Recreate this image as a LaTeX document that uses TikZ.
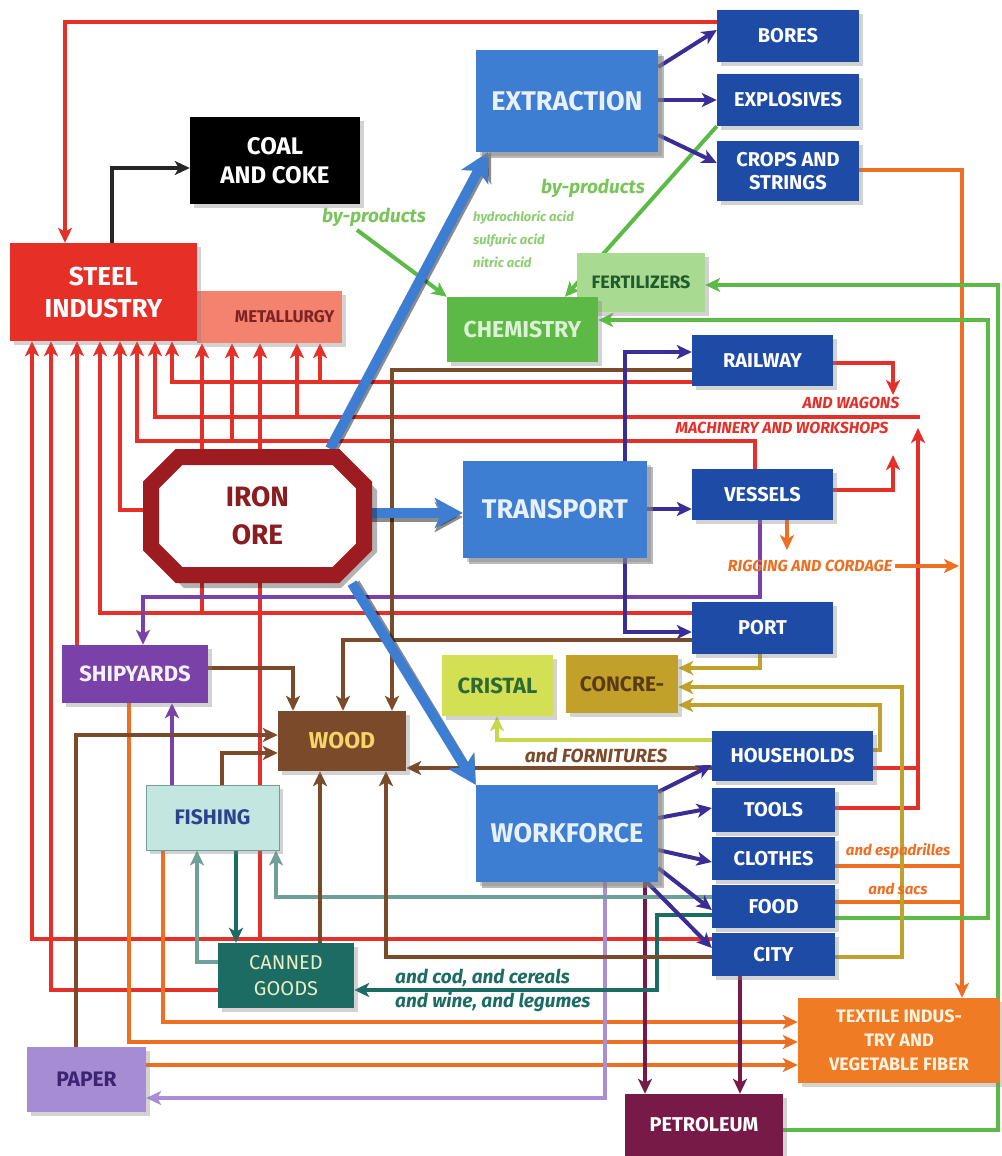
\documentclass[tikz,border=0pt]{standalone}
\usepackage{fontspec}
\setmainfont{Fira Sans}
\usetikzlibrary{arrows.meta,shadows}
\definecolor{cRed}{HTML}{E5302A}
\definecolor{cSteel}{HTML}{E63027}
\definecolor{cMetal}{HTML}{F3826E}
\definecolor{cMetTxt}{HTML}{7E2320}
\definecolor{cDkBlue}{HTML}{1E4BA6}
\definecolor{cLtBlue}{HTML}{3E7ED2}
\definecolor{cBigTxt}{HTML}{E8F0FA}
\definecolor{cInd}{HTML}{3A2E96}
\definecolor{cChem}{HTML}{5DB946}
\definecolor{cChemTxt}{HTML}{DDF2D5}
\definecolor{cFert}{HTML}{A9DA92}
\definecolor{cFertTxt}{HTML}{1F5B2B}
\definecolor{cGreen}{HTML}{5CBA47}
\definecolor{cGreenTxt}{HTML}{7AC55A}
\definecolor{cIron}{HTML}{9C1C21}
\definecolor{cIronTxt}{HTML}{8A1D1F}
\definecolor{cShip}{HTML}{7A41A8}
\definecolor{cWood}{HTML}{7B4A2B}
\definecolor{cWoodTxt}{HTML}{F6D466}
\definecolor{cCris}{HTML}{D4E054}
\definecolor{cCrisTxt}{HTML}{2E6A38}
\definecolor{cConc}{HTML}{C2A12B}
\definecolor{cConcTxt}{HTML}{5B3A14}
\definecolor{cFish}{HTML}{C3E6E1}
\definecolor{cFishTxt}{HTML}{2D428C}
\definecolor{cCan}{HTML}{1D6C64}
\definecolor{cCanTxt}{HTML}{E7EFC2}
\definecolor{cPaper}{HTML}{A58CD3}
\definecolor{cPaperTxt}{HTML}{3D2472}
\definecolor{cTex}{HTML}{EF7B24}
\definecolor{cTexTxt}{HTML}{FFF3E2}
\definecolor{cPet}{HTML}{781A48}
\definecolor{cOrange}{HTML}{EE6E22}
\definecolor{cLav}{HTML}{A88ED6}
\definecolor{cTeal}{HTML}{1D6C64}
\definecolor{cGT}{HTML}{6F9F99}
\definecolor{cYG}{HTML}{C7D84C}
\definecolor{cOlive}{HTML}{C1A02B}
\definecolor{cBrown}{HTML}{7B4A2B}
\pgfdeclarelayer{bg}
\pgfdeclarelayer{paper}
\pgfsetlayers{paper,bg,main}
\tikzset{
  bx/.style={rectangle, inner sep=0pt, align=center,
    font=\bfseries\fontsize{20}{23}\selectfont,
    drop shadow={opacity=0.35,shadow xshift=4pt,shadow yshift=-4pt}},
  dkb/.style={bx, fill=cDkBlue, text=white},
  bigb/.style={bx, fill=cLtBlue, text=cBigTxt, font=\bfseries\fontsize{27}{30}\selectfont,
    drop shadow={opacity=0.55,shadow xshift=6pt,shadow yshift=-6pt}},
  lab/.style={inner sep=0pt, align=left, font=\bfseries\itshape\fontsize{16}{19}\selectfont},
  tip/.style={-{Stealth[length=15pt,width=14pt,inset=4pt]}},
  rl/.style={draw=cRed, line width=4pt},
  ol/.style={draw=cOrange, line width=4pt},
  gl/.style={draw=cGreen, line width=4pt},
  br/.style={draw=cBrown, line width=4pt},
  ind/.style={draw=cInd, line width=4pt},
  pl/.style={draw=cShip, line width=4pt},
  lav/.style={draw=cLav, line width=4pt},
  mar/.style={draw=cPet, line width=4pt},
  tl/.style={draw=cTeal, line width=4pt},
  gt/.style={draw=cGT, line width=4pt},
  yg/.style={draw=cYG, line width=4pt},
  olv/.style={draw=cOlive, line width=4pt},
  blk/.style={draw=black!85, line width=4pt},
  bigar/.style={draw=cLtBlue, line width=10pt, -{Stealth[length=28pt,width=30pt,inset=7pt]}},
  bigsh/.style={draw=black, opacity=0.45, line width=10pt, -{Stealth[length=28pt,width=30pt,inset=7pt]}}
}
\begin{document}
\begin{tikzpicture}[x=1pt,y=-1pt]
\useasboundingbox (0,0) rectangle (1001,1156);
\begin{pgfonlayer}{paper}
\fill[white] (0,0) rectangle (1001,1156);
\end{pgfonlayer}

% ---------- iron ore octagon ----------
\fill[black,opacity=0.3,shift={(5,5)}] (179,449) -- (336,449) -- (372,485) -- (372,547) -- (336,583) -- (179,583) -- (143,547) -- (143,485) -- cycle;
\draw[cIron, line width=16pt, fill=white, line join=miter] (179,457) -- (336,457) -- (364,485) -- (364,547) -- (336,575) -- (179,575) -- (151,547) -- (151,485) -- cycle;
\node[inner sep=0pt, minimum width=229pt, minimum height=134pt, align=center, text=cIronTxt,
  font=\bfseries\fontsize{28}{38}\selectfont] (iron) at (257.5,516) {IRON\\ORE};

% ---------- nodes ----------
\node[dkb, minimum width=142pt, minimum height=52pt] (bores) at (788,36) {BORES};
\node[dkb, minimum width=142pt, minimum height=52pt] (explos) at (788,100) {EXPLOSIVES};
\node[dkb, minimum width=142pt, minimum height=60pt] (crops) at (788,171) {CROPS AND\\STRINGS};
\node[bigb, minimum width=182pt, minimum height=102pt] (extract) at (567,101) {EXTRACTION};
\node[bx, fill=black, text=white, minimum width=170pt, minimum height=87pt,
  font=\bfseries\fontsize{24}{29}\selectfont] (coal) at (275,160.5) {COAL\\AND COKE};
\node[bx, fill=cMetal, text=cMetTxt, minimum width=145pt, minimum height=52pt,
  font=\bfseries\fontsize{17}{20}\selectfont, text width=130pt, align=right] (metal) at (269.5,317) {METALLURGY};
\node[bx, fill=cSteel, text=white, minimum width=187pt, minimum height=98pt,
  font=\bfseries\fontsize{26}{32}\selectfont] (steel) at (103.5,292) {STEEL\\INDUSTRY};
\node[bx, fill=cFert, text=cFertTxt, minimum width=128pt, minimum height=59pt,
  font=\bfseries\fontsize{18}{21}\selectfont] (fert) at (641,282.5) {FERTILIZERS};
\node[bx, fill=cChem, text=cChemTxt, minimum width=151pt, minimum height=65pt,
  font=\bfseries\fontsize{23}{27}\selectfont] (chem) at (522.5,329.5) {CHEMISTRY};
\node[dkb, minimum width=141pt, minimum height=51pt] (rail) at (762.5,360.5) {RAILWAY};
\node[bigb, minimum width=184pt, minimum height=97pt] (transp) at (555,509.5) {TRANSPORT};
\node[dkb, minimum width=141pt, minimum height=51pt] (vessels) at (762.5,494.5) {VESSELS};
\node[dkb, minimum width=141pt, minimum height=52pt] (port) at (762.5,628) {PORT};
\node[bx, fill=cShip, text=white!92!cShip, minimum width=146pt, minimum height=58pt,
  font=\bfseries\fontsize{22}{26}\selectfont] (ship) at (135,674) {SHIPYARDS};
\node[bx, fill=cWood, text=cWoodTxt, minimum width=128pt, minimum height=60pt,
  font=\bfseries\fontsize{23}{27}\selectfont] (wood) at (342,741) {WOOD};
\node[bx, fill=cCris, text=cCrisTxt, minimum width=111pt, minimum height=61pt,
  font=\bfseries\fontsize{22}{26}\selectfont] (cristal) at (497.5,685.5) {CRISTAL};
\node[bx, fill=cConc, text=cConcTxt, minimum width=112pt, minimum height=58pt,
  font=\bfseries\fontsize{21}{25}\selectfont] (concre) at (622,684) {CONCRE-};
\node[dkb, minimum width=161pt, minimum height=50pt] (house) at (792.5,756) {HOUSEHOLDS};
\node[dkb, minimum width=123pt, minimum height=44pt] (tools) at (773.5,810) {TOOLS};
\node[dkb, minimum width=123pt, minimum height=43pt] (clothes) at (773.5,858.5) {CLOTHES};
\node[dkb, minimum width=123pt, minimum height=43pt] (food) at (773.5,906.5) {FOOD};
\node[dkb, minimum width=123pt, minimum height=43pt] (city) at (773.5,954.5) {CITY};
\node[bigb, minimum width=182pt, minimum height=97pt] (work) at (567,833.5) {WORKFORCE};
\node[bx, fill=cFish, draw=cGT, line width=1pt, text=cFishTxt, minimum width=133pt, minimum height=65pt,
  font=\bfseries\fontsize{21}{25}\selectfont] (fish) at (212.5,817.5) {FISHING};
\node[bx, fill=cCan, text=cCanTxt, minimum width=136pt, minimum height=65pt,
  font=\fontsize{20}{26}\selectfont] (canned) at (286,975.5) {CANNED\\GOODS};
\node[bx, fill=cPaper, text=cPaperTxt, minimum width=119pt, minimum height=65pt,
  font=\bfseries\fontsize{21}{25}\selectfont] (paper) at (86.5,1079.5) {PAPER};
\node[bx, fill=cTex, text=cTexTxt, minimum width=202pt, minimum height=85pt,
  font=\bfseries\fontsize{18}{24}\selectfont] (textile) at (899,1040.5) {TEXTILE INDUS-\\TRY AND\\VEGETABLE FIBER};
\node[bx, fill=cPet, text=white, minimum width=158pt, minimum height=62pt,
  font=\bfseries\fontsize{20}{23}\selectfont] (petrol) at (704,1125) {PETROLEUM};

% ---------- labels ----------
\node[lab, text=cGreenTxt, font=\bfseries\itshape\fontsize{19}{22}\selectfont] (bp1) at (374,217) {by-products};
\node[lab, text=cGreenTxt, font=\bfseries\itshape\fontsize{19}{22}\selectfont] (bp2) at (593,188) {by-products};
\node[lab, anchor=west, text=cGreenTxt!85!white, font=\bfseries\itshape\fontsize{13}{23}\selectfont] (acids) at (473,239) {hydrochloric acid\\sulfuric acid\\nitric acid};
\node[lab, text=cRed] (wag) at (851,403) {AND WAGONS};
\node[lab, text=cRed] (mach) at (782,428) {MACHINERY AND WORKSHOPS};
\node[lab, text=cOrange] (rig) at (810,566) {RIGGING AND CORDAGE};
\node[lab, text=cBrown, font=\bfseries\itshape\fontsize{19}{22}\selectfont] (forn) at (596,755) {and FORNITURES};
\node[lab, text=cOrange, font=\bfseries\itshape\fontsize{15}{18}\selectfont] (esp) at (898,851) {and espadrilles};
\node[lab, text=cOrange, font=\bfseries\itshape\fontsize{15}{18}\selectfont] (sacs) at (898,889) {and sacs};
\node[lab, anchor=west, text=cTeal, font=\bfseries\itshape\fontsize{19}{24}\selectfont] (cod) at (395,990) {and cod, and cereals\\and wine, and legumes};

% free ends
\coordinate (wagtip) at (893,395);
\coordinate (machtip) at (918,428);
\coordinate (vestip) at (893,455);
\coordinate (rigtip) at (787,550);
\coordinate (rigend) at (959,566);

\begin{pgfonlayer}{bg}
% ---------- red ----------
\draw[rl,tip] (bores.west |- 0,22) -- (65,22) -- (steel.north -| 65,0);
\draw[rl,tip] (rail.east |- 0,363) -- (893,363) -- (wagtip);
\draw[rl,tip] (rail.west |- 0,382) -- (172,382) -- (steel.south -| 172,0);
\draw[rl,tip] (320,382) -- (metal.south -| 320,0);
\draw[rl,tip] (tools.east |- 0,808) -- (918,808) -- (machtip);
\draw[rl] (house.east |- 0,768) -- (918,768);
\draw[rl,tip] (920,417) -- (155,417) -- (steel.south -| 155,0);
\draw[rl,tip] (297,417) -- (metal.south -| 297,0);
\draw[rl,tip] (vessels.north -| 755,0) -- (755,441) -- (137,441) -- (steel.south -| 137,0);
\draw[rl,tip] (232,441) -- (metal.south -| 232,0);
\draw[rl,tip] (vessels.east |- 0,490) -- (893,490) -- (vestip);
\draw[rl,tip] (port.west |- 0,613) -- (100,613) -- (steel.south -| 100,0);
\draw[rl] (iron.south -| 202,0) -- (202,613);
\draw[rl,tip] (iron.north -| 202,0) -- (metal.south -| 202,0);
\draw[rl,tip] (iron.west |- 0,510) -- (120,510) -- (steel.south -| 120,0);
\draw[rl,tip] (city.west |- 0,939) -- (32,939) -- (steel.south -| 32,0);
\draw[rl,tip] (260,939) -- (metal.south -| 260,0);
\draw[rl,tip] (canned.west |- 0,990) -- (51,990) -- (steel.south -| 51,0);
\draw[rl,tip] (ship.north -| 77,0) -- (steel.south -| 77,0);
% ---------- orange ----------
\draw[ol,tip] (crops.east |- 0,170) -- (962,170) -- (textile.north -| 962,0);
\draw[ol,tip] (vessels.south -| 787,0) -- (rigtip);
\draw[ol,tip] (rig.east) ++(3,0) -- (rigend);
\draw[ol] (clothes.east |- 0,866) -- (962,866);
\draw[ol] (food.east |- 0,902) -- (962,902);
\draw[ol,tip] (fish.south -| 163,0) -- (163,1022) -- (textile.west |- 0,1022);
\draw[ol,tip] (ship.south -| 129,0) -- (129,1042) -- (textile.west |- 0,1042);
\draw[ol,tip] (paper.east |- 0,1065) -- (textile.west |- 0,1065);
% ---------- green ----------
\draw[gl,tip] (357,230) -- (chem.north west);
\draw[gl,tip] (explos.south west) -- (chem.north -| 565,0);
\draw[gl,tip] (food.east |- 0,918) -- (988,918) -- (988,320) -- (chem.east |- 0,320);
\draw[gl,tip] (petrol.east |- 0,1130) -- (998,1130) -- (998,285) -- (fert.east |- 0,285);
% ---------- lavender, maroon ----------
\draw[lav,tip] (work.south -| 605,0) -- (605,1098) -- (paper.east |- 0,1098);
\draw[mar,tip] (work.south -| 645,0) -- (petrol.north -| 645,0);
\draw[mar,tip] (city.south -| 740,0) -- (petrol.north -| 740,0);
% ---------- teal ----------
\draw[tl,tip] (food.west |- 0,915) -- (657,915) -- (657,990) -- (canned.east |- 0,990);
\draw[tl,tip] (fish.south -| 236,0) -- (canned.north -| 236,0);
\draw[gt,tip] (canned.west |- 0,962) -- (197,962) -- (fish.south -| 197,0);
\draw[gt,tip] (food.west |- 0,897) -- (276,897) -- (fish.south -| 276,0);
% ---------- purple ----------
\draw[pl,tip] (vessels.south -| 760,0) -- (760,597) -- (143,597) -- (ship.north -| 143,0);
\draw[pl,tip] (fish.north -| 172,0) -- (ship.south -| 172,0);
% ---------- yellow-green, olive ----------
\draw[yg,tip] (house.west |- 0,740) -- (497,740) -- (cristal.south -| 497,0);
\draw[olv,tip] (port.south -| 760,0) -- (760,668) -- (concre.east |- 0,668);
\draw[olv,tip] (city.east |- 0,957) -- (902,957) -- (902,687) -- (concre.east |- 0,687);
\draw[olv,tip] (house.east |- 0,750) -- (880,750) -- (880,705) -- (concre.east |- 0,705);
% ---------- brown ----------
\draw[br,tip] (rail.west |- 0,370) -- (392,370) -- (wood.north -| 392,0);
\draw[br,tip] (port.west |- 0,640) -- (343,640) -- (wood.north -| 343,0);
\draw[br,tip] (ship.east |- 0,668) -- (293,668) -- (wood.north -| 293,0);
\draw[br,tip] (paper.north -| 76,0) -- (76,735) -- (wood.west |- 0,735);
\draw[br,tip] (fish.north -| 222,0) -- (222,753) -- (wood.west |- 0,753);
\draw[br,tip] (canned.north -| 320,0) -- (wood.south -| 320,0);
\draw[br,tip] (city.west |- 0,957) -- (386,957) -- (wood.south -| 386,0);
\draw[br,tip] (house.west |- 0,768) -- (wood.east |- 0,768);
% ---------- black ----------
\draw[blk,tip] (steel.north -| 112,0) -- (112,168) -- (coal.west |- 0,168);
% ---------- indigo ----------
\draw[ind,tip] (extract.east |- 0,67) -- (bores.west |- 0,30);
\draw[ind,tip] (extract.east |- 0,100) -- (explos.west |- 0,100);
\draw[ind,tip] (extract.east |- 0,135) -- (crops.west |- 0,163);
\draw[ind,tip] (transp.north -| 625,0) -- (625,352) -- (rail.west |- 0,352);
\draw[ind,tip] (transp.east |- 0,509) -- (vessels.west |- 0,509);
\draw[ind,tip] (transp.south -| 625,0) -- (625,632) -- (port.west |- 0,632);
\draw[ind,tip] (work.east |- 0,792) -- (house.west |- 0,765);
\draw[ind,tip] (work.east |- 0,818) -- (tools.west |- 0,808);
\draw[ind,tip] (work.east |- 0,850) -- (clothes.west |- 0,862);
\draw[ind,tip] (work.east |- 0,868) -- (food.west |- 0,910);
\draw[ind,tip] (work.south -| 647,0) -- (city.west |- 0,948);
% ---------- big blue ----------
\draw[bigsh,shift={(3,4)}] (iron.north -| 330,0) -- (extract.south -| 488,0);
\draw[bigar] (iron.north -| 330,0) -- (extract.south -| 488,0);
\draw[bigsh,shift={(3,4)}] (iron.east |- 0,513) -- (transp.west |- 0,513);
\draw[bigar] (iron.east |- 0,513) -- (transp.west |- 0,513);
\draw[bigsh,shift={(3,4)}] (iron.south -| 352,0) -- (work.north west);
\draw[bigar] (iron.south -| 352,0) -- (work.north west);
\end{pgfonlayer}
\end{tikzpicture}
\end{document}
